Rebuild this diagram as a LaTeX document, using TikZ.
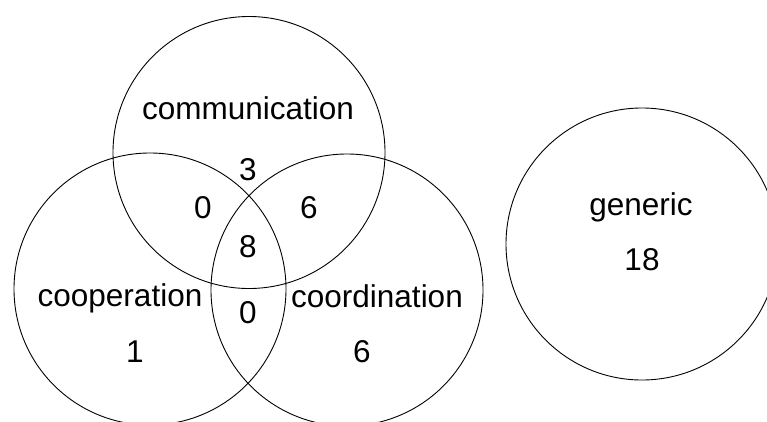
\documentclass[tikz,border=0pt]{standalone}
\usepackage{fontspec}
\setmainfont{Liberation Sans}
\begin{document}
\begin{tikzpicture}[x=1pt,y=-1pt,
  setcircle/.style={circle, draw, line width=0.9pt, minimum size=272pt, inner sep=0pt},
  lbl/.style={anchor=base, font=\fontsize{31.5}{36}\selectfont, inner sep=0pt}]
\useasboundingbox (0,0) rectangle (767,421);
\clip (0,0) rectangle (767,421);
% the three overlapping sets
\node[setcircle] (comm)  at (249,152.5) {};
\node[setcircle] (coop)  at (150,289) {};
\node[setcircle] (coord) at (347,290) {};
% the separate set
\node[setcircle] (gen)   at (642,244) {};
% set names and counts
\node[lbl] (tcomm)  at (248,119) {communication};
\node[lbl] (ncomm)  at (248,180) {3};
\node[lbl] (ncc)    at (203,218) {0};
\node[lbl] (ncd)    at (309,218) {6};
\node[lbl] (nall)   at (248,257) {8};
\node[lbl] (tcoop)  at (120,306) {cooperation};
\node[lbl] (nco)    at (248,323) {0};
\node[lbl] (ncoop)  at (135,362) {1};
\node[lbl] (tcoord) at (377,307) {coordination};
\node[lbl] (ncoord) at (362,362) {6};
\node[lbl] (tgen)   at (641,215) {generic};
\node[lbl] (ngen)   at (642,270) {18};
\end{tikzpicture}
\end{document}
